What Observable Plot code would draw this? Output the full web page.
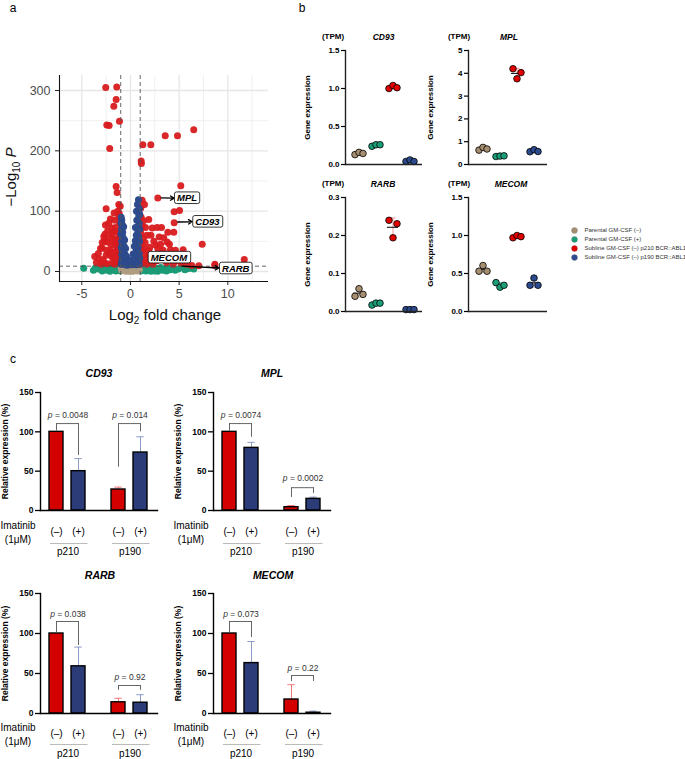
<!DOCTYPE html>
<html><head><meta charset="utf-8">
<script src="https://cdn.jsdelivr.net/npm/d3@7"></script>
<script src="https://cdn.jsdelivr.net/npm/@observablehq/plot@0.6"></script>
<style>
body{margin:0;background:#fff;font-family:"Liberation Sans",Arial,sans-serif;}
#root{position:relative;width:685px;height:759px;overflow:hidden;background:#fff;}
.box{position:absolute;}
</style></head><body><div id="root"></div>
<script>
// ---------- Panel a: volcano data ([log2FC, -log10 P]) ----------
const volcMajorX = [-5, 0, 5, 10];
const volcMinorX = [-2.5, 2.5, 7.5, 12.5];
const volcMajorY = [0, 100, 200, 300];
const volcMinorY = [50, 150, 250];
const fcCut = [-1, 1];
const pCut = [8.8];
const bothPts = [ // red: significant and |log2FC|>1
 [-2.54,305],[-1.41,306],[-1.47,285],[-1.71,274],[-1.13,249],[-2.43,243],[-2.19,242],[-2.13,204],
 [6.5,235],[3.57,225],[4.83,225],[1.27,210],[2.09,210],[1.1,183],[1.12,179],
 [5.17,142],[-1.47,141],[-1.37,131],[2.81,122],[-1.2,111],[-1.05,108],[-2.5,104],[1.44,111],[4.49,99],[5.04,101],[4.49,81],[-1.68,97],
 [-2.06,87],[-2.57,77],[-2.23,80],[-1.54,73],[-2.74,58],[-2.33,68],[-1.88,62],[-1.54,54],[-2.4,49],[-2.91,39],[-3.67,25],[-2.06,35],[-1.37,35],[-1.72,24],[-1.1,24],[-3.26,21],[-3.08,38],[-2.67,51],
 [-1.2,90],[-1.1,80],[-1.3,66],[-1.15,58],[-1.25,47],[-1.4,42],[-1.6,45],[-1.8,52],[-2.0,44],[-2.2,30],[-2.5,27],[-2.8,20],[-1.5,18],[-1.2,14],[-1.9,14],[-2.4,13],[-3.0,12],[-1.4,28],[-1.05,40],[-1.1,65],[-1.6,85],[-1.9,72],[-2.2,56],[-2.6,62],[-1.3,100],[-1.15,96],[-2.9,48],[-3.3,30],[-1.7,32],[-1.05,30],[-1.08,15],[-1.3,52],[-1.75,66],[-2.45,35],[-1.95,25],[-2.7,14],[-3.5,15],[-1.6,12],[-1.05,50],
 [1.34,84],[1.88,86],[1.54,73],[2.23,72],[2.74,73],[3.19,73],[3.84,65],[4.45,65],[2.95,57],[3.42,56],[2.4,50],[3.77,49],[1.99,40],[2.81,38],[3.36,35],[4.11,36],[4.62,35],[5.41,36],[5.0,24],[4.11,21],[7.37,45],[8.67,12],[11.69,20],[5.48,26],[7.02,9.5],[8.67,10],
 [1.1,90],[1.2,75],[1.1,62],[1.3,55],[1.15,45],[1.5,48],[1.7,60],[1.2,35],[1.4,28],[1.1,20],[1.6,22],[2.0,28],[2.5,25],[1.3,14],[1.8,15],[2.3,12],[2.7,18],[3.0,28],[3.3,20],[3.7,15],[4.4,12],[5.2,14],[5.8,12],[6.3,10],[1.05,105],[1.2,118],[2.1,60],[2.6,44],[3.1,45],[3.6,28],[4.0,45],[1.9,33],[1.45,38],[1.05,70],[1.65,12],[1.02,12],[4.8,18]
];
const pPts = [ // blue: significant only
 [-0.95,90],[-0.9,85],[-0.97,80],[-0.85,78],[-0.7,74],[-0.92,70],[-0.8,65],[-0.88,60],[-0.75,56],[-0.6,52],[-0.9,50],[-0.8,45],[-0.65,42],[-0.5,38],[-0.95,40],[-0.85,35],[-0.7,32],[-0.55,28],[-0.4,25],[-0.9,28],[-0.75,22],[-0.6,20],[-0.45,18],[-0.3,16],[-0.2,14],[-0.9,18],[-0.8,14],[-0.65,12],[-0.5,11],[-0.35,10.5],[-0.95,12],[-0.97,62],
 [0.82,119],[0.72,111],[0.62,100],[0.92,104],[0.95,95],[0.85,92],[0.51,73],[0.75,68],[0.9,80],[0.65,85],[0.8,75],[0.95,70],[0.6,60],[0.85,58],[0.5,51],[0.7,48],[0.93,50],[0.4,42],[0.8,40],[0.6,35],[0.28,29],[0.45,27],[0.9,30],[0.75,25],[0.2,20],[0.35,18],[0.55,16],[0.85,18],[0.1,14],[0.3,12],[0.6,11],[0.9,12],[0.15,11],[0.0,12],[-0.1,11],[0.95,22]
];
const fcPts = [ // green: |log2FC|>1 only
 [-4.8,5.5],[-3.6,6],[-3.3,4],[-3.0,7],[-2.8,3],[-2.6,6],[-2.4,2],[-2.2,5],[-2.0,7.5],[-1.9,3],[-1.7,6],[-1.5,1],[-1.4,4],[-1.3,7],[-1.2,2.5],[-1.1,5.5],[-1.05,1],[-2.9,1],[-2.1,0.5],[-1.6,3],[-3.8,2],
 [1.05,1],[1.1,5],[1.2,2],[1.3,7],[1.4,3],[1.5,5.5],[1.6,1],[1.7,7],[1.8,4],[1.9,2],[2.0,6],[2.2,3],[2.4,7.5],[2.5,1],[2.7,5],[2.9,3],[3.1,6.5],[3.3,2],[3.5,4.5],[3.7,1],[3.9,6],[4.1,3],[4.3,5],[4.6,2],[4.9,4],[5.2,6],[5.6,3],[6.0,5],[6.5,4],[2.1,0.5],[2.8,0.5],[1.25,4],[3.0,4]
];
const nsPts = [ // tan: not significant
 [-0.9,2],[-0.8,5],[-0.7,7],[-0.6,1],[-0.5,4],[-0.4,6.5],[-0.3,2],[-0.2,8],[-0.1,0.5],[0,3],[0.1,6],[0.2,1],[0.3,4.5],[0.4,7],[0.5,2],[0.6,5],[0.7,1],[0.8,6],[0.9,3],[-0.95,7],[-0.15,4],[0.05,7.5],[0.25,0.3],[-0.35,0.5],[0.55,8],[-0.65,3.5],[0.75,3.5]
];
const volcLabelNames = ["MPL", "CD93", "MECOM", "RARB"];
const volcLabelX = [4.52, 6.4, 1.82, 9.15];
const volcLabelY = [121.5, 82.4, 23, 5];
const volcArrowFrom = [[3.15,122],[4.85,82],null,[5.3,8.8]];
const volcArrowTo = [[4.5,121.5],[6.35,82.4],null,[9.1,5.8]];

// ---------- Panel b: TPM dot plots ----------
const groupLabels = ["Parental GM-CSF (–)", "Parental GM-CSF (+)", "Subline GM-CSF (–) p210 BCR::ABL1", "Subline GM-CSF (–) p190 BCR::ABL1"];
const groupColors = ["#a68e70", "#1b9e77", "#e00000", "#2c4a8e"];
const groupLight = ["#cdbda6", "#86d0b9", "#f59a9a", "#97a8d4"];
const cd93Tpm = [[0.13,0.16,0.145],[0.24,0.26,0.26],[1.0,1.04,1.01],[0.04,0.06,0.04]];
const mplTpm = [[0.63,0.75,0.68],[0.35,0.37,0.38],[4.2,3.76,4.03],[0.56,0.65,0.57]];
const rarbTpm = [[0.04,0.06,0.045],[0.017,0.022,0.022],[0.24,0.194,0.231],[0.005,0.005,0.005]];
const mecomTpm = [[0.53,0.605,0.53],[0.38,0.32,0.345],[0.97,1.0,0.985],[0.345,0.44,0.345]];
const cd93TpmTicks = [0, 0.5, 1.0, 1.5];
const mplTpmTicks = [0, 1, 2, 3, 4, 5];
const rarbTpmTicks = [0, 0.1, 0.2, 0.3];
const mecomTpmTicks = [0, 0.5, 1.0, 1.5];

// ---------- Panel c: relative expression bars ----------
const lines = ["p210", "p190"];
const treatments = ["(–)", "(+)"];
const cd93Rel = [100, 50, 26.7, 73.7];
const cd93Sd = [0, 16, 3, 20];
const mplRel = [100, 79.6, 4.2, 14.8];
const mplSd = [0, 7, 2.1, 2.2];
const rarbRel = [100, 59, 14, 13.5];
const rarbSd = [0, 24, 5, 10];
const mecomRel = [100, 63, 17.5, 1];
const mecomSd = [0, 27, 18.5, 2];
const cd93P = ["0.0048", "0.014"];
const mplP = ["0.0074", "0.0002"];
const rarbP = ["0.038", "0.92"];
const mecomP = ["0.073", "0.22"];
// brackets: [bracket level, left leg end, right leg end, label level]
const cd93Br = [[110.5, 101, 70, 120.7], [110.5, 55, 100, 120.7]];
const mplBr = [[110.5, 101, 93, 120.7], [29, 16.5, 21.6, 40.6]];
const rarbBr = [[115, 100.5, 85, 124], [35, 29, 29, 45]];
const mecomBr = [[115, 101, 95, 124], [47.5, 40, 40, 56]];
const relTicks = [0, 50, 100, 150];

// ---------- helpers ----------
const root = document.getElementById("root");
const FONT = "'Liberation Sans', Arial, sans-serif";
function place(node, left, top, width) {
  const d = document.createElement("div");
  d.className = "box";
  d.style.left = left + "px"; d.style.top = top + "px"; d.style.width = width + "px";
  d.appendChild(node); root.appendChild(d);
  return node;
}
function label(html, cx, cy, css, rot) {
  const d = document.createElement("div");
  d.innerHTML = html;
  d.style.cssText = `position:absolute;left:${cx}px;top:${cy}px;transform:translate(-50%,-50%)${rot ? " rotate(-90deg)" : ""};white-space:nowrap;line-height:1;font-family:${FONT};${css}`;
  root.appendChild(d);
}
function italicP(svg) {
  d3.select(svg).selectAll("text").each(function () {
    const t = this.textContent;
    if (t.startsWith("p = ")) {
      const s = d3.select(this); s.text("");
      s.append("tspan").attr("font-style", "italic").text("p");
      s.append("tspan").text(t.slice(1));
    }
  });
}
const baseStyle = {fontFamily: FONT, fontSize: "10px", background: "transparent", color: "black", overflow: "visible"};

// ---------- Panel a ----------
const volcX = [-7.29, 14.18], volcY = [-16.6, 324.9];
const volcLabels = volcLabelNames.map((n, i) => ({n, x: volcLabelX[i], y: volcLabelY[i]}));
const volcArrows = volcArrowFrom.map((f, i) => f && ({x1: f[0], y1: f[1], x2: volcArrowTo[i][0], y2: volcArrowTo[i][1]})).filter(Boolean);
const px = d => d[0], py = d => d[1];
const volc = Plot.plot({
  width: 280, height: 330, marginLeft: 59, marginRight: 12, marginTop: 75, marginBottom: 49,
  x: {domain: volcX}, y: {domain: volcY},
  style: baseStyle,
  marks: [
    Plot.ruleX(volcMinorX, {stroke: "#eeeeee", strokeWidth: 0.9}),
    Plot.ruleY(volcMinorY, {stroke: "#eeeeee", strokeWidth: 0.9}),
    Plot.ruleX(volcMajorX, {stroke: "#e6e6e6", strokeWidth: 1.3}),
    Plot.ruleY(volcMajorY, {stroke: "#e6e6e6", strokeWidth: 1.3}),
    Plot.dot(fcPts, {x: px, y: py, r: 3.5, fill: "#1b9b76"}),
    Plot.dot(nsPts, {x: px, y: py, r: 3.5, fill: "#b09c80"}),
    Plot.dot(bothPts, {x: px, y: py, r: 3.5, fill: "#d81b1f", fillOpacity: 0.95}),
    Plot.dot(pPts, {x: px, y: py, r: 3.5, fill: "#2d4b8c"}),
    Plot.ruleX(fcCut, {stroke: "#555", strokeWidth: 0.9, strokeDasharray: "4,3"}),
    Plot.ruleY(pCut, {stroke: "#555", strokeWidth: 0.9, strokeDasharray: "4,3"}),
    Plot.ruleX([volcX[0]], {stroke: "#111", strokeWidth: 1.1}),
    Plot.ruleY([volcY[0]], {stroke: "#111", strokeWidth: 1.1}),
    Plot.axisX({ticks: volcMajorX, tickSize: 4, tickPadding: 4, fontSize: 12.5, fill: "#4d4d4d", stroke: "#222", label: null, tickFormat: d => String(d)}),
    Plot.axisY({ticks: volcMajorY, tickSize: 4, tickPadding: 5, fontSize: 12.5, fill: "#4d4d4d", stroke: "#222", label: null, tickFormat: d => String(d)}),
    Plot.arrow(volcArrows, {x1: "x1", y1: "y1", x2: "x2", y2: "y2", stroke: "black", strokeWidth: 1.3, headLength: 5}),
    Plot.text(volcLabels, {x: "x", y: "y", text: "n", textAnchor: "start", dx: 2.5, fontSize: 9.5, fontWeight: "bold", fontStyle: "italic", fill: "black"})
  ]
});
place(volc, 0, 0, 280);
d3.select(volc).selectAll("text").each(function () {
  if (!volcLabelNames.includes(this.textContent)) return;
  const b = this.getBBox();
  const r = document.createElementNS("http://www.w3.org/2000/svg", "rect");
  r.setAttribute("x", b.x - 2.5); r.setAttribute("y", b.y - 0.3);
  r.setAttribute("width", b.width + 5); r.setAttribute("height", b.height + 0.6);
  r.setAttribute("rx", 2); r.setAttribute("fill", "white"); r.setAttribute("stroke", "black"); r.setAttribute("stroke-width", 0.8);
  const tr = this.getAttribute("transform"); if (tr) r.setAttribute("transform", tr);
  this.parentNode.insertBefore(r, this);
});
label("a", 13, 8, "font-size:12px;");
label("−Log<sub style='font-size:10px'>10</sub> <i>P</i>", 12, 177, "font-size:15px;color:#111;", true);
label("Log<sub style='font-size:10px'>2</sub> fold change", 165, 316, "font-size:15px;color:#111;");

// ---------- Panel b ----------
const repDx = [-4, 0, 4];
function dotChart(vals, ticks, fmt, left, top, width) {
  const rows = [];
  groupLabels.forEach((g, gi) => vals[gi].forEach((v, ri) => rows.push({g, gi, v, ri})));
  const summ = groupLabels.map((g, gi) => ({g, gi, m: d3.mean(vals[gi]), s: d3.deviation(vals[gi])}));
  const dom = [ticks[0], ticks[ticks.length - 1]];
  const p = Plot.plot({
    width, height: 140, marginLeft: 55, marginRight: 3, marginTop: 20, marginBottom: 6,
    x: {type: "band", domain: groupLabels, paddingInner: 0.37, paddingOuter: 0.4},
    y: {domain: dom},
    color: {type: "identity"},
    style: baseStyle,
    marks: [
      Plot.ruleX(summ, {x: "g", y1: d => d.m - d.s, y2: d => d.m + d.s, stroke: d => groupLight[d.gi], strokeWidth: 1}),
      Plot.tickY(summ, {x: "g", y: d => d.m + d.s, stroke: d => groupLight[d.gi], insetLeft: 2.5, insetRight: 2.5}),
      Plot.tickY(summ, {x: "g", y: d => d.m - d.s, stroke: d => groupLight[d.gi], insetLeft: 2.5, insetRight: 2.5}),
      Plot.tickY(summ, {x: "g", y: "m", stroke: "black", strokeWidth: 1}),
      ...repDx.map((dx, ri) => Plot.dot(rows.filter(d => d.ri === ri), {x: "g", y: "v", dx, r: 3.3, fill: d => groupColors[d.gi], stroke: "black", strokeWidth: 0.8})),
      Plot.frame({anchor: "left", stroke: "#222", strokeWidth: 1.4}),
      Plot.ruleY([dom[0]], {stroke: "#222", strokeWidth: 1.4}),
      Plot.axisY({ticks, tickFormat: fmt, tickSize: 4, tickPadding: 2, fontSize: 8, fontWeight: "bold", strokeWidth: 1.2,
        label: "Gene expression", labelAnchor: "center", labelOffset: 41, labelArrow: "none"}),
      Plot.axisX({ticks: [], label: null})
    ]
  });
  return place(p, left, top, width);
}
const f1 = d3.format(".1f"), f0 = d3.format("d");
dotChart(cd93Tpm, cd93TpmTicks, f1, 290, 30, 135);
dotChart(mplTpm, mplTpmTicks, f0, 413, 30, 137);
dotChart(rarbTpm, rarbTpmTicks, f1, 290, 177, 135);
dotChart(mecomTpm, mecomTpmTicks, f1, 413, 177, 137);
label("b", 302, 8, "font-size:12px;");
const tpmCss = "font-size:8px;font-weight:bold;";
const geneCss = "font-size:8.5px;font-weight:bold;font-style:italic;";
label("(TPM)", 333, 37, tpmCss); label("<i>CD93</i>", 383.5, 37, geneCss);
label("(TPM)", 459, 37, tpmCss); label("<i>MPL</i>", 509, 37, geneCss);
label("(TPM)", 333, 184, tpmCss); label("<i>RARB</i>", 383, 184, geneCss);
label("(TPM)", 459, 184, tpmCss); label("<i>MECOM</i>", 511, 184, geneCss);

// legend
const legend = Plot.plot({
  width: 120, height: 44, marginLeft: 9, marginRight: 0, marginTop: 4, marginBottom: 4,
  y: {type: "point", domain: groupLabels, padding: 0.5, axis: null},
  x: {axis: null},
  color: {type: "identity"},
  style: baseStyle,
  marks: [
    Plot.dot(groupLabels, {y: d => d, frameAnchor: "left", r: 3, fill: (d, i) => groupColors[i], stroke: "#777", strokeWidth: 0.3}),
    Plot.text(groupLabels, {y: d => d, text: d => d, frameAnchor: "left", dx: 10, textAnchor: "start", fontSize: 6, fill: "#333"})
  ]
});
place(legend, 565, 221, 120);

// ---------- Panel c ----------
const RED = "#d40000", NAVY = "#2b3c78", RED_L = "#f07a7a", NAVY_L = "#8d9dc9";
function barChart(rel, sd, pv, br, left, top, height, mt, fh, off) {
  const rows = [];
  lines.forEach((g, gi) => treatments.forEach((t, ti) => rows.push({g, t, v: rel[gi * 2 + ti], sd: sd[gi * 2 + ti]})));
  const errs = rows.filter(d => d.sd > 0);
  const brs = lines.map((g, gi) => ({g, top: br[gi][0], l: br[gi][1], r: br[gi][2], ly: br[gi][3], p: "p = " + pv[gi]}));
  const lineRows = lines.map(g => ({g}));
  const first = [{g: lines[0]}];
  const colOf = d => d.t === treatments[0] ? RED : NAVY;
  const errOf = d => d.t === treatments[0] ? RED_L : NAVY_L;
  const p = Plot.plot({
    width: 170, height, marginLeft: 40, marginRight: 13, marginTop: mt, marginBottom: height - mt - fh,
    fx: {domain: lines, paddingInner: 0.113, paddingOuter: 0, axis: null, label: null},
    x: {domain: treatments, paddingInner: 0.356, paddingOuter: 0.4},
    y: {domain: [relTicks[0], relTicks[relTicks.length - 1]]},
    color: {type: "identity"},
    style: baseStyle,
    marks: [
      Plot.ruleX(errs, {fx: "g", x: "t", y1: "v", y2: d => d.v + d.sd, stroke: errOf, strokeWidth: 1}),
      Plot.tickY(errs, {fx: "g", x: "t", y: d => d.v + d.sd, stroke: errOf, strokeWidth: 1, insetLeft: 3.3, insetRight: 3.3}),
      Plot.barY(rows, {fx: "g", x: "t", y: "v", fill: colOf, stroke: "black", strokeWidth: 1.4}),
      Plot.link(brs, {fx: "g", x1: () => treatments[0], x2: () => treatments[1], y1: "top", y2: "top", stroke: "#555", strokeWidth: 0.9}),
      Plot.ruleX(brs, {fx: "g", x: () => treatments[0], y1: "l", y2: "top", stroke: "#555", strokeWidth: 0.9}),
      Plot.ruleX(brs, {fx: "g", x: () => treatments[1], y1: "r", y2: "top", stroke: "#555", strokeWidth: 0.9}),
      Plot.text(brs, {fx: "g", y: "ly", text: "p", fontSize: 8.5, fill: "#333"}),
      Plot.frame({anchor: "left", facet: "super", stroke: "black", strokeWidth: 1.4}),
      Plot.frame({anchor: "bottom", facet: "super", stroke: "black", strokeWidth: 1.4}),
      Plot.axisY({ticks: relTicks, tickSize: 5, tickPadding: 2, fontSize: 8.5, fontWeight: "bold", strokeWidth: 1.3,
        label: "Relative expression (%)", labelAnchor: "center", labelOffset: 39, labelArrow: "none"}),
      Plot.axisX({tickSize: 0, tickPadding: off.tick, fontSize: 10, label: null}),
      Plot.text(first, {fx: "g", frameAnchor: "bottom-left", textAnchor: "middle", lineAnchor: "middle", text: () => "Imatinib", dx: -22.5, dy: off.ima, fontSize: 10}),
      Plot.text(first, {fx: "g", frameAnchor: "bottom-left", textAnchor: "middle", lineAnchor: "middle", text: () => "(1μM)", dx: -22.5, dy: off.ima + 13.5, fontSize: 10}),
      Plot.ruleY(lineRows, {fx: "g", y: () => 0, dy: off.line, insetLeft: 10, insetRight: 7.5, stroke: "#aaa", strokeWidth: 0.8}),
      Plot.text(lineRows, {fx: "g", text: "g", frameAnchor: "bottom", lineAnchor: "middle", dy: off.grp, fontSize: 10})
    ]
  });
  place(p, left, top, 170);
  italicP(p);
}
const offTop = {tick: 17, ima: 15.5, line: 33, grp: 41.5};
const offBot = {tick: 16, ima: 14.5, line: 31, grp: 40};
barChart(cd93Rel, cd93Sd, cd93P, cd93Br, 0, 340, 225, 52, 118, offTop);
barChart(mplRel, mplSd, mplP, mplBr, 173, 340, 225, 52, 118, offTop);
barChart(rarbRel, rarbSd, rarbP, rarbBr, 0, 548, 211, 45, 120, offBot);
barChart(mecomRel, mecomSd, mecomP, mecomBr, 173, 548, 211, 45, 120, offBot);
label("c", 13, 359, "font-size:12px;");
const titleCss = "font-size:10.5px;font-weight:bold;font-style:italic;";
label("CD93", 99, 373, titleCss);
label("MPL", 272, 373, titleCss);
label("RARB", 100, 575, titleCss);
label("MECOM", 273, 575, titleCss);
</script></body></html>
